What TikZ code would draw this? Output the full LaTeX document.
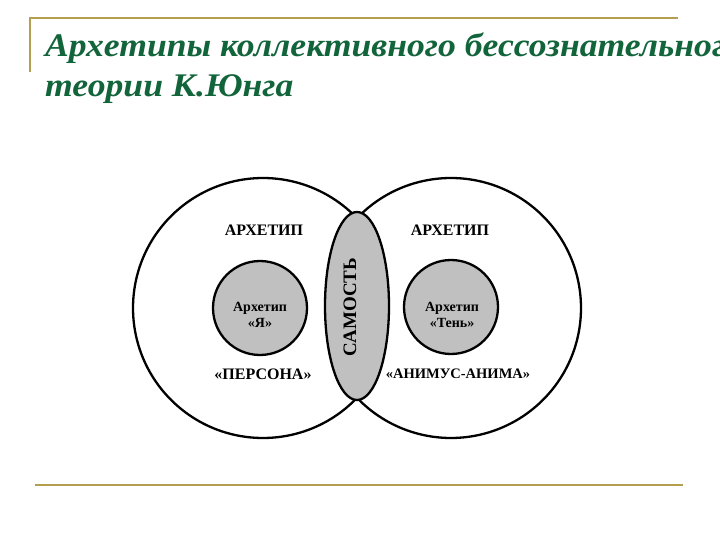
\documentclass[tikz,border=0pt]{standalone}
\usepackage{fontspec}
\setmainfont{Liberation Serif}
\usetikzlibrary{shapes.geometric}
\definecolor{titlegreen}{RGB}{18,100,58}
\definecolor{goldline}{RGB}{180,158,80}
\definecolor{fillgray}{RGB}{192,192,192}
\tikzset{
  bigline/.style={draw=black,line width=2.3pt},
  smallcirc/.style={circle,draw=black,fill=fillgray,line width=2.3pt,minimum size=94pt,inner sep=0pt},
  selfell/.style={ellipse,draw=black,fill=fillgray,line width=2.3pt,minimum width=64pt,minimum height=188pt,inner sep=0pt},
  caplabel/.style={font=\fontsize{16}{18}\selectfont\bfseries,inner sep=0pt},
  innerlabel/.style={font=\fontsize{14}{16.5}\selectfont\bfseries,align=center,inner sep=0pt},
  titletext/.style={font=\fontsize{33}{38}\selectfont\bfseries\itshape,text=titlegreen,inner sep=0pt,anchor=base west,xscale=1.08},
  rule/.style={draw=goldline,line width=2.4pt}
}
\begin{document}
\begin{tikzpicture}[x=1pt,y=-1pt]
\useasboundingbox (0,0) rectangle (720,540);
\clip (0,0) rectangle (720,540);
% frame lines
\coordinate (tl) at (30,18);
\coordinate (tr) at (678,18);
\coordinate (lb) at (30,72);
\coordinate (bl) at (35,485);
\coordinate (br) at (683,485);
\draw[rule] (lb) -- (tl) -- (tr);
\draw[rule] (bl) -- (br);
% title
\node[titletext] (t1) at (45,57) {Архетипы коллективного бессознательного в};
\node[titletext] (t2) at (45,97) {теории К.Юнга};
% big circles (outer outline of their union)
\coordinate (L) at (263,308);
\coordinate (R) at (451,308);
\draw[bigline] (L) ++(43.69:130) arc[start angle=43.69, end angle=316.31, radius=130];
\draw[bigline] (R) ++(-136.31:130) arc[start angle=-136.31, end angle=136.31, radius=130];
% self ellipse
\node[selfell] (S) at (357,306) {};
\node[rotate=90,font=\fontsize{19}{20}\selectfont\bfseries,inner sep=0pt] (St) at (350,307) {САМОСТЬ};
% small circles
\node[smallcirc] (A) at (260,308) {};
\node[smallcirc] (B) at (451,307) {};
\node[innerlabel] (Atx) at (260,315) {Архетип\\«Я»};
\node[innerlabel] (Btx) at (452,315) {Архетип\\«Тень»};
% labels
\node[caplabel] (l1) at (264,230) {АРХЕТИП};
\node[caplabel] (l2) at (450,230) {АРХЕТИП};
\node[caplabel] (l3) at (263,374) {«ПЕРСОНА»};
\node[caplabel,font=\fontsize{14.5}{16}\selectfont\bfseries] (l4) at (458,374) {«АНИМУС-АНИМА»};
\end{tikzpicture}
\end{document}
